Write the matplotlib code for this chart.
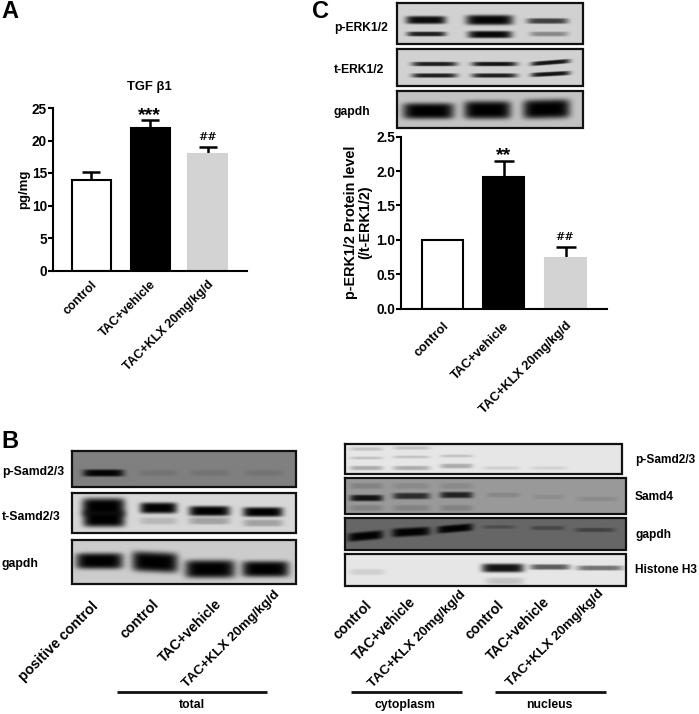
import numpy as np
import matplotlib
matplotlib.use("Agg")
import matplotlib.pyplot as plt

plt.rcParams['font.family'] = ['Liberation Sans', 'DejaVu Sans']
plt.rcParams['font.weight'] = 'bold'

W, H = 699, 714

groups = ["control", "TAC+vehicle", "TAC+KLX 20mg/kg/d"]
tgf_values = [14.0, 22.0, 18.0]
tgf_errors = [1.1, 1.1, 1.0]
erk_values = [1.0, 1.92, 0.73]
erk_errors = [0.0, 0.23, 0.17]
bar_fill = ["white", "black", "#d3d3d3"]
bar_edge = ["black", "black", "#d3d3d3"]

# blots: (left, right, top, bottom, background, bands)
# band: (x-left, x-right, y-centre, half-height, strength, tilt px across band)
blot_perk = (397, 583, 3, 44, .82, [
    (406, 446, 20, 4.0, .95, 0), (407, 446, 34, 2.4, .85, 0),
    (466, 513, 20, 5.0, .98, 0), (468, 512, 34.5, 3.6, .97, 0),
    (527, 568, 21, 2.8, .7, 0), (530, 568, 34, 2.4, .35, 0)])
blot_terk = (397, 583, 49, 86, .82, [
    (412, 457, 64, 2.2, .85, 0), (412, 457, 75.5, 2.2, .85, 0),
    (472, 517, 64, 2.2, .9, 0), (472, 517, 75.5, 2.2, .85, 0),
    (531, 570, 62.5, 2.2, .9, -3), (531, 570, 74, 2.2, .9, -2)])
blot_gerk = (397, 583, 91, 128, .76, [
    (403, 454, 111, 8, 1.0, 0), (464, 511, 110, 9, 1.0, 0), (523, 570, 109, 9.5, 1.0, -1)])
blot_psmad_l = (72, 296, 451, 487, .50, [
    (83, 124, 473, 3.6, .97, 0), (140, 177, 473, 3, .1, 0),
    (190, 230, 473, 3, .1, 0), (245, 283, 473, 3, .1, 0)])
blot_tsmad_l = (72, 296, 493, 533, .84, [
    (82, 125, 507, 9, 1.0, 0), (83, 125, 519, 8, 1.0, 0),
    (140, 177, 508, 5.5, 1.0, 0), (189, 230, 511, 5.0, 1.0, 0), (243, 283, 512, 4.8, 1.0, 0),
    (140, 177, 521, 3.5, .15, 0), (189, 230, 521, 3.5, .25, 0), (243, 283, 523, 3.5, .25, 0)])
blot_gapdh_l = (72, 296, 540, 584, .80, [
    (76, 123, 561, 8, 1.0, 0), (132, 178, 562, 10, 1.0, 2),
    (185, 235, 569, 9, 1.0, 0), (242, 289, 569, 8, 1.0, 0)])
blot_psmad_r = (345, 622, 444, 474, .90, [
    (350, 383, 468, 2.2, .25, 0), (393, 430, 468, 2.2, .25, 0), (440, 473, 466, 2.4, .25, 0),
    (350, 383, 458, 1.5, .15, 0), (393, 430, 457, 1.5, .15, 0), (440, 473, 456, 1.5, .15, 0),
    (350, 383, 449, 1.8, .15, 0), (393, 430, 448, 1.8, .15, 0), (483, 520, 468, 1.8, .1, 0),
    (530, 567, 468, 1.8, .08, 0)])
blot_smad4_r = (345, 626, 478, 514, .60, [
    (350, 383, 498, 3.2, .88, 0), (393, 430, 496, 3.2, .72, 0), (440, 473, 495, 3.2, .78, 0),
    (350, 383, 508, 3, .15, 0), (393, 430, 508, 3, .15, 0), (440, 473, 508, 3, .15, 0),
    (350, 383, 486, 3, .15, 0), (393, 430, 486, 3, .1, 0), (440, 473, 486, 3, .1, 0),
    (487, 520, 495, 2.4, .12, 0), (533, 565, 497, 2.4, .08, 0), (577, 617, 499, 2.4, .1, 0)])
blot_gapdh_r = (345, 626, 518, 550, .40, [
    (348, 383, 536, 4.4, .98, -3), (392, 430, 532, 4.4, .98, -2), (437, 473, 528.5, 3.8, .98, -3),
    (483, 515, 527, 1.8, .25, 0), (530, 565, 528, 2.2, .3, 0), (575, 615, 530, 2.2, .35, 0)])
blot_h3_r = (345, 626, 554, 586, .90, [
    (350, 385, 572, 3, .1, 0), (482, 524, 568, 4.4, .92, 0),
    (530, 570, 567, 2.8, .6, 0), (577, 623, 568, 2.5, .5, 0),
    (486, 524, 581, 3.5, .15, 0)])
blots = [blot_perk, blot_terk, blot_gerk, blot_psmad_l, blot_tsmad_l, blot_gapdh_l,
         blot_psmad_r, blot_smad4_r, blot_gapdh_r, blot_h3_r]


def px_axes(fig, left, right, top, bottom):
    return fig.add_axes([left / W, 1 - bottom / H, (right - left) / W, (bottom - top) / H])


def blot_image(blot):
    x0, x1, y0, y1, bg, bands = blot
    xs = np.arange(x0, x1) + .5
    ys = np.arange(y0, y1) + .5
    X, Y = np.meshgrid(xs, ys)
    img = np.full(X.shape, float(bg))
    for a, b, yc, hh, s, tilt in bands:
        xc, w = (a + b) / 2, (b - a) / 2
        dy = Y - (yc + tilt * (X - xc) / max(w, 1) / 2)
        p = np.exp(-np.abs((X - xc) / w) ** 6) * np.exp(-np.abs(dy / hh) ** 4)
        img *= 1 - s * p
    return img


fig = plt.figure(figsize=(W / 100, H / 100), dpi=100, facecolor="white")

# full-figure overlay in pixel coordinates
ov = fig.add_axes([0, 0, 1, 1])
ov.axis("off")

for b in blots:
    x0, x1, y0, y1 = b[:4]
    ov.imshow(blot_image(b), cmap="gray", vmin=0, vmax=1, extent=(x0, x1, y1, y0),
              aspect="auto", interpolation="bilinear", zorder=1)
    ov.plot([x0, x1, x1, x0, x0], [y0, y0, y1, y1, y0], color="#111111", lw=1.6, zorder=2,
            solid_joinstyle="miter")
ov.set_xlim(0, W)
ov.set_ylim(H, 0)


def bar_panel(box, vals, errs, ylim, yticks, fmt, centers, width, cap, tick_fs, lab_fs, lab_pad):
    ax = px_axes(fig, *box)
    ax.patch.set_alpha(0)
    ax.set_xlim(box[0], box[1])
    ax.set_ylim(*ylim)
    for i, (c, v, e) in enumerate(zip(centers, vals, errs)):
        ax.bar(c, v, width=width, color=bar_fill[i], edgecolor=bar_edge[i], linewidth=1.5, zorder=2)
        if e > 0:
            ax.errorbar(c, v, yerr=[[0], [e]], color="black", lw=1.8,
                        capsize=cap, capthick=1.8, zorder=1)
    for s in ("top", "right"):
        ax.spines[s].set_visible(False)
    for s in ("left", "bottom"):
        ax.spines[s].set_linewidth(1.5)
    ax.set_yticks(yticks)
    ax.set_yticklabels([fmt % t for t in yticks], fontsize=tick_fs, fontweight="bold")
    ax.set_xticks(centers)
    ax.set_xticklabels(groups, rotation=45, ha="right", rotation_mode="anchor",
                       fontsize=lab_fs, fontweight="bold")
    ax.tick_params(axis="y", length=3.6, width=1.5, pad=0.8)
    ax.tick_params(axis="x", length=0, pad=lab_pad)
    return ax


bar_panel((53, 247, 108, 270.5), tgf_values, tgf_errors, (0, 25), [0, 5, 10, 15, 20, 25], "%d",
          [91, 150, 207.5], 39, 6.8, 9.8, 8.9, 6)
bar_panel((401, 607, 136.7, 308.5), erk_values, erk_errors, (0, 2.5), [0, .5, 1, 1.5, 2, 2.5], "%.1f",
          [442.5, 503.5, 565.5], 41, 7.5, 9.8, 9.2, 8)


def label(x, y, s, size=8, **kw):
    ov.text(x, y, s, fontsize=size, fontweight="bold", color="black", zorder=5, **kw)


label(1, 12, "A", 17, va="center")
label(1, 442, "B", 17, va="center")
label(312, 12, "C", 17, va="center")

label(149, 87, "TGF β1", 9.4, ha="center", va="center")
label(24, 189, "pg/mg", 9.5, ha="center", va="center", rotation=90)
label(149, 116, "***", 14, ha="center", va="center")
label(208, 137, "##", 8, ha="center", va="center", family="DejaVu Serif")
label(504, 156, "**", 14, ha="center", va="center")
label(565, 237, "##", 8, ha="center", va="center", family="DejaVu Serif")
label(358, 222, "p-ERK1/2 Protein level\n(/t-ERK1/2)", 10.4, ha="center", va="center", rotation=90,
      linespacing=1.05)

for y, s in [(28, "p-ERK1/2"), (70, "t-ERK1/2"), (112, "gapdh")]:
    label(334, y, s, 8.7, va="center")
for y, s in [(472, "p-Samd2/3"), (517, "t-Samd2/3"), (564, "gapdh")]:
    label(2, y, s, 8.8, va="center")
for y, s in [(460, "p-Samd2/3"), (497, "Samd4"), (535, "gapdh"), (570, "Histone H3")]:
    label(635, y, s, 8.6, va="center")

rot = dict(rotation=45, ha="right", va="center", rotation_mode="anchor")
for x, y, s, fs in [(96, 604, "positive control", 10.3), (157, 602, "control", 10.3),
                    (220, 602, "TAC+vehicle", 10), (278, 593, "TAC+KLX 20mg/kg/d", 9.7),
                    (370, 603, "control", 10.3), (414, 600, "TAC+vehicle", 10),
                    (464, 593, "TAC+KLX 20mg/kg/d", 9.7), (502, 603, "control", 10.3),
                    (548, 600, "TAC+vehicle", 10), (602, 592, "TAC+KLX 20mg/kg/d", 9.7)]:
    label(x, y, s, fs, **rot)

for x0, x1, xm, s in [(117, 267, 192, "total"), (351, 462, 405, "cytoplasm"), (495, 606, 549, "nucleus")]:
    ov.plot([x0, x1], [692, 692], color="#111111", lw=2, solid_capstyle="butt", zorder=3)
    label(xm, 705, s, 8.8, ha="center", va="center")

fig.savefig("out.png", dpi=100)
